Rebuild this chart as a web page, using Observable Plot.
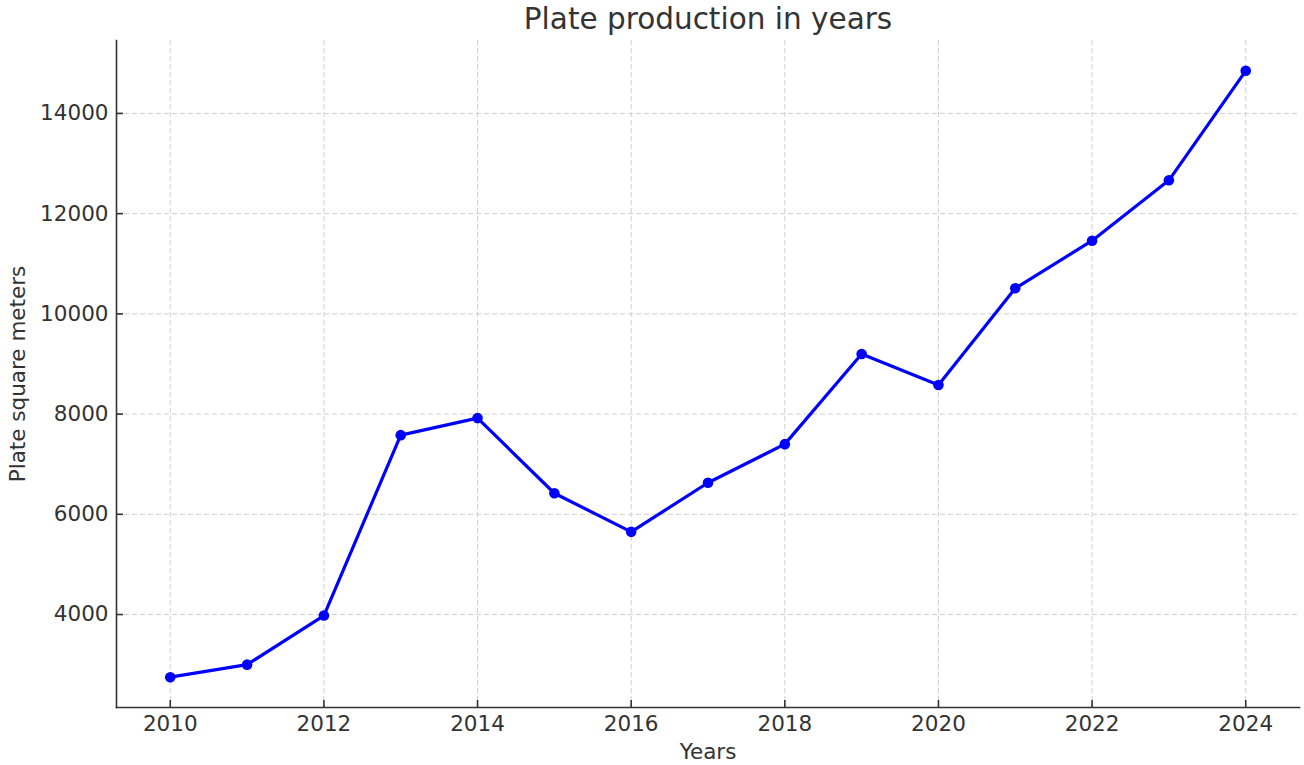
<!DOCTYPE html>
<html>
<head>
<meta charset="utf-8">
<script src="https://cdn.jsdelivr.net/npm/d3@7"></script>
<script src="https://cdn.jsdelivr.net/npm/@observablehq/plot@0.6"></script>
<style>
  html, body { margin: 0; padding: 0; background: #fff; overflow: hidden; }
</style>
</head>
<body>
<div id="chart"></div>
<script>
const title = "Plate production in years";
const xLabel = "Years";
const yLabel = "Plate square meters";
const years = [2010, 2011, 2012, 2013, 2014, 2015, 2016, 2017, 2018, 2019, 2020, 2021, 2022, 2023, 2024];
const production = [2750, 3000, 3980, 7580, 7920, 6420, 5650, 6630, 7400, 9200, 8580, 10510, 11460, 12665, 14850];
const xTicks = [2010, 2012, 2014, 2016, 2018, 2020, 2022, 2024];
const yTicks = [4000, 6000, 8000, 10000, 12000, 14000];

const data = years.map((y, i) => ({year: y, value: production[i]}));

const W = 1304, H = 765;
const mL = 116, mR = 5, mT = 40, mB = 58;
const frameW = W - mL - mR, frameH = H - mT - mB;
const tickLen = 7;
const ink = "#333333";
const labelSize = 21.5;
const gridStyle = {stroke: "#d0d0d0", strokeOpacity: 1, strokeWidth: 1, strokeDasharray: "5,3"};

const chart = Plot.plot({
  width: W,
  height: H,
  marginLeft: mL,
  marginRight: mR,
  marginTop: mT,
  marginBottom: mB,
  style: {fontFamily: "'DejaVu Sans', sans-serif", fontSize: labelSize + "px", color: ink, background: "#fff"},
  x: {domain: [2009.3, 2024.7]},
  y: {domain: [2145, 15455]},
  marks: [
    Plot.gridX(xTicks, gridStyle),
    Plot.gridY(yTicks, gridStyle),
    Plot.axisX({ticks: xTicks, tickSize: 0, tickPadding: 8, tickFormat: "d", label: null, fontSize: labelSize}),
    Plot.axisY({ticks: yTicks, tickSize: 0, tickPadding: 8, tickFormat: "d", label: null, fontSize: labelSize}),
    Plot.ruleX(xTicks, {x: d => d, insetTop: frameH - tickLen, stroke: ink, strokeWidth: 1.6}),
    Plot.ruleY(yTicks, {y: d => d, insetRight: frameW - tickLen, stroke: ink, strokeWidth: 1.6}),
    Plot.frame({anchor: "left", stroke: ink, strokeWidth: 1.6}),
    Plot.frame({anchor: "bottom", stroke: ink, strokeWidth: 1.6}),
    Plot.line(data, {x: "year", y: "value", stroke: "#0000ff", strokeWidth: 3.2}),
    Plot.dot(data, {x: "year", y: "value", fill: "#0000ff", r: 5.3}),
    Plot.text([title], {frameAnchor: "top", lineAnchor: "bottom", dy: -12, fontSize: 29.5, fill: ink}),
    Plot.text([xLabel], {frameAnchor: "bottom", lineAnchor: "bottom", dy: 51, fontSize: labelSize, fill: ink}),
    Plot.text([yLabel], {frameAnchor: "left", rotate: -90, textAnchor: "middle", lineAnchor: "middle", dx: -98, fontSize: labelSize, fill: ink})
  ]
});
document.getElementById("chart").appendChild(chart);
</script>
</body>
</html>
